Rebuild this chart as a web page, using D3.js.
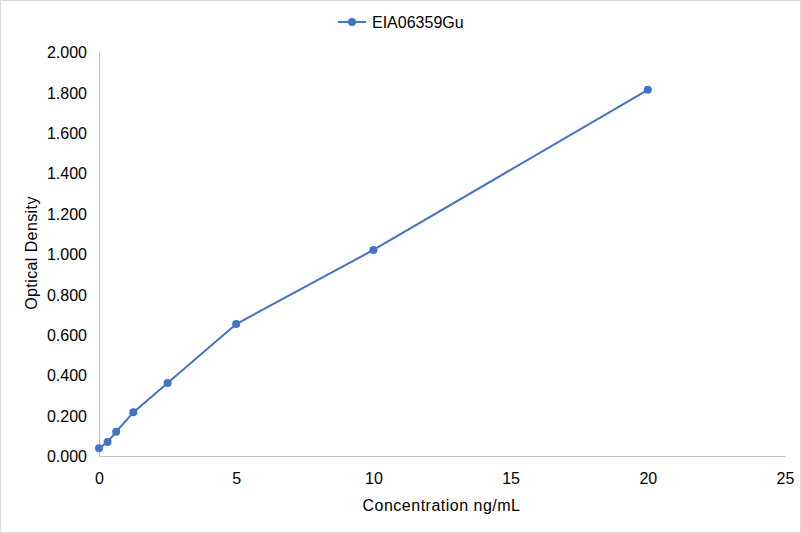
<!DOCTYPE html>
<html>
<head>
<meta charset="utf-8">
<script src="https://cdn.jsdelivr.net/npm/d3@7"></script>
<style>
  body { margin: 0; background: #fff; }
  svg { font-family: "Liberation Sans", Arial, sans-serif; }
</style>
</head>
<body>
<svg id="chart" width="801" height="533"></svg>
<script>
const seriesName = "EIA06359Gu";
const concentrations = [0, 0.3125, 0.625, 1.25, 2.5, 5, 10, 20];
const densities = [0.038, 0.069, 0.120, 0.216, 0.361, 0.653, 1.020, 1.813];
const xTicks = [0, 5, 10, 15, 20, 25];
const yTicks = [0, 0.2, 0.4, 0.6, 0.8, 1.0, 1.2, 1.4, 1.6, 1.8, 2.0];

const color = "#4472c4";
const axisColor = "#bfbfbf";
const textColor = "#000";

const svg = d3.select("#chart");
const margin = { left: 99, right: 16, top: 52, bottom: 77 };
const W = 801, H = 533;

svg.append("rect")
  .attr("x", 0.5).attr("y", 0.5)
  .attr("width", W - 1).attr("height", H - 1)
  .attr("fill", "#fff").attr("stroke", "#d9d9d9");

const x = d3.scaleLinear().domain([0, 25]).range([margin.left, W - margin.right]);
const y = d3.scaleLinear().domain([0, 2]).range([H - margin.bottom, margin.top]);

// axes: lines only, no tick marks
const xAxis = svg.append("g")
  .attr("transform", `translate(0,${y(0)})`)
  .call(d3.axisBottom(x).tickValues(xTicks).tickSize(0).tickPadding(17).tickFormat(d3.format("d")));
const yAxis = svg.append("g")
  .attr("transform", `translate(${x(0)},0)`)
  .call(d3.axisLeft(y).tickValues(yTicks).tickSize(0).tickPadding(12).tickFormat(d3.format(".3f")));

[xAxis, yAxis].forEach((a) => {
  a.select(".domain").attr("stroke", axisColor).attr("stroke-width", 1);
  a.selectAll("text")
    .attr("fill", textColor)
    .style("font-size", "16px")
    .style("font-family", "Liberation Sans, Arial, sans-serif");
});
yAxis.selectAll("text").attr("dy", "0.35em");

const line = d3.line()
  .x((d, i) => x(concentrations[i]))
  .y((d) => y(d));

svg.append("path")
  .datum(densities)
  .attr("fill", "none")
  .attr("stroke", color)
  .attr("stroke-width", 2)
  .attr("d", line);

svg.selectAll("circle.pt")
  .data(densities)
  .enter()
  .append("circle")
  .attr("class", "pt")
  .attr("cx", (d, i) => x(concentrations[i]))
  .attr("cy", (d) => y(d))
  .attr("r", 4)
  .attr("fill", color);

// axis titles
svg.append("text")
  .attr("x", 441.5)
  .attr("y", 511)
  .attr("text-anchor", "middle")
  .style("font-size", "16px")
  .style("letter-spacing", "0.5px")
  .attr("fill", textColor)
  .text("Concentration ng/mL");

svg.append("text")
  .attr("transform", "translate(37,253) rotate(-90)")
  .attr("text-anchor", "middle")
  .style("font-size", "16px")
  .style("letter-spacing", "0.4px")
  .attr("fill", textColor)
  .text("Optical Density");

// legend
const legend = svg.append("g").attr("transform", "translate(338,22)");
legend.append("line")
  .attr("x1", 0).attr("x2", 28).attr("y1", 0).attr("y2", 0)
  .attr("stroke", color).attr("stroke-width", 2);
legend.append("circle").attr("cx", 14).attr("cy", 0).attr("r", 4).attr("fill", color);
legend.append("text")
  .attr("x", 34).attr("y", 0).attr("dy", "0.35em")
  .style("font-size", "16px")
  .attr("fill", textColor)
  .text(seriesName);
</script>
</body>
</html>
